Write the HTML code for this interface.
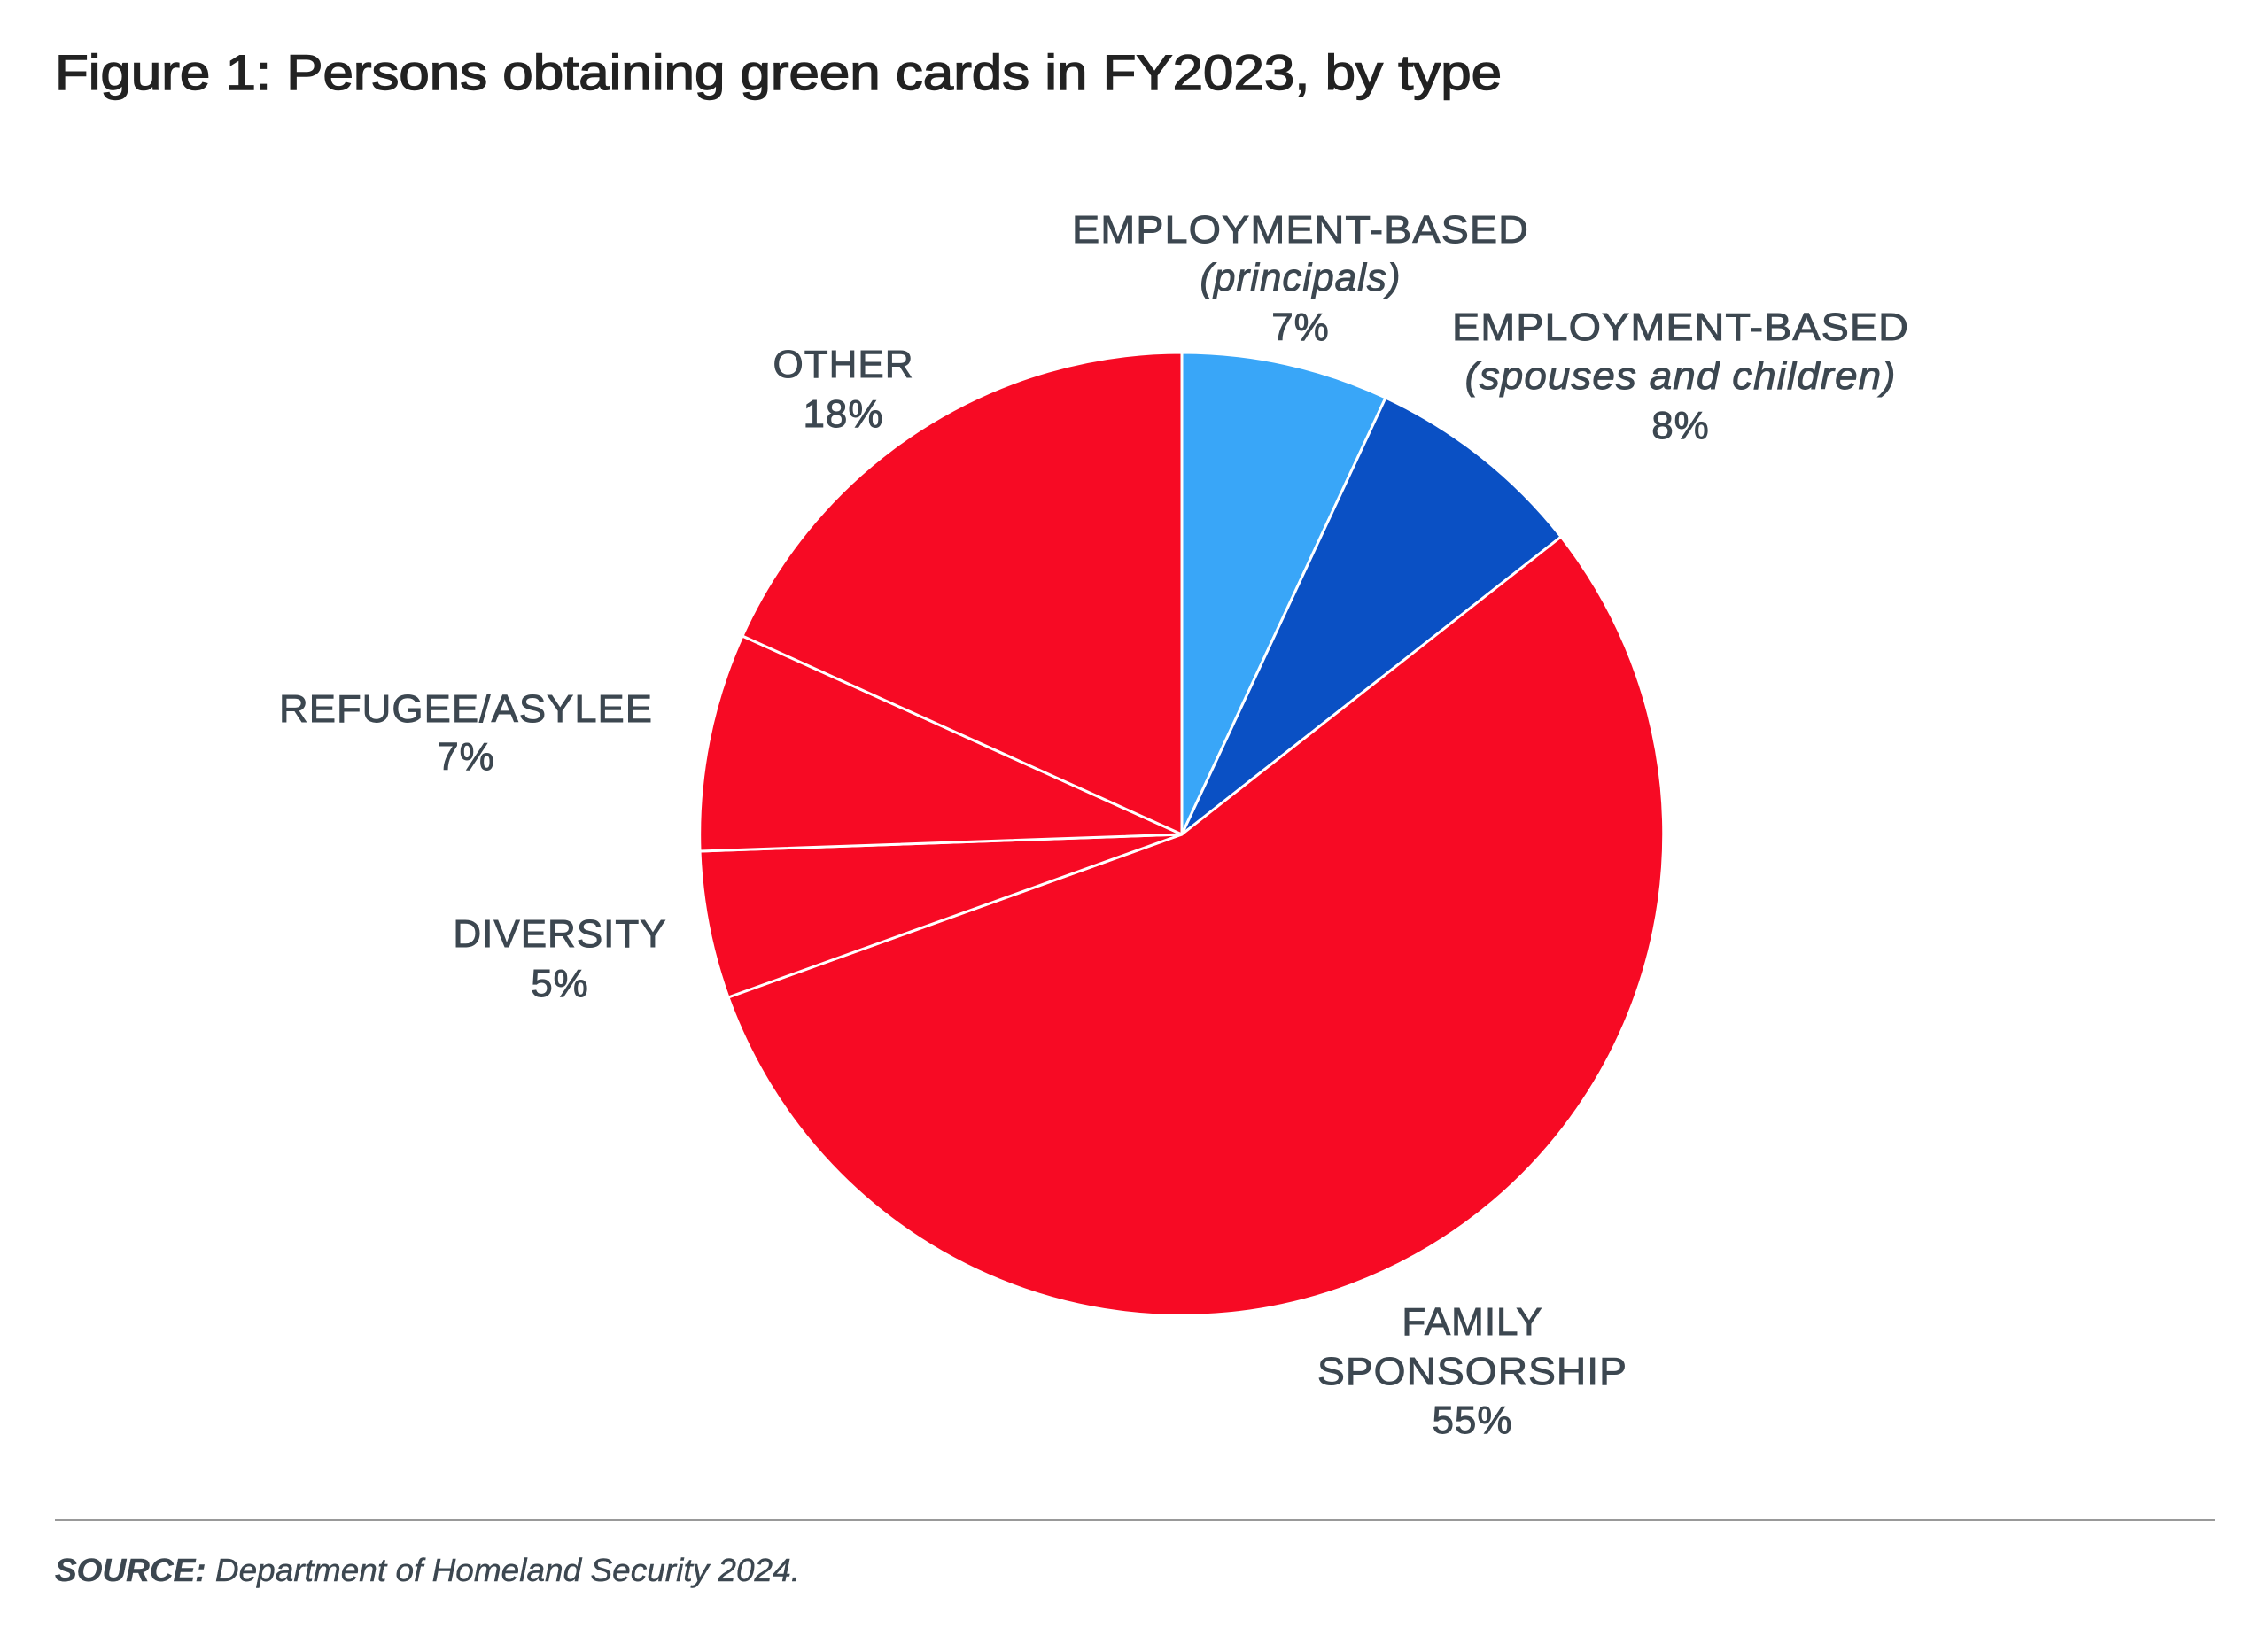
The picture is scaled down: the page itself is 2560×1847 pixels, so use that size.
<!DOCTYPE html>
<html><head><meta charset="utf-8"><style>
html,body{margin:0;padding:0;background:#fff;}
svg{display:block;}
text{font-family:"Liberation Sans",sans-serif;fill:#3c4750;}
.l{font-size:44px;letter-spacing:1px;text-anchor:middle;stroke:#3c4750;stroke-width:0.9px;}
.i{font-style:italic;}
</style></head><body>
<svg width="2560" height="1847" viewBox="0 0 2560 1847" xmlns="http://www.w3.org/2000/svg">
<rect width="2560" height="1847" fill="#fff"/>
<text x="62" y="101" font-size="56" textLength="1633" lengthAdjust="spacingAndGlyphs" style="fill:#222;stroke:#222;stroke-width:1.4px">Figure 1: Persons obtaining green cards in FY2023, by type</text>
<g stroke="#fff" stroke-width="3" stroke-linejoin="round">
<path d="M1334,942 L1334,398 A544,544 0 0 1 1564,449 Z" fill="#39a6f8"/>
<path d="M1334,942 L1564,449 A544,544 0 0 1 1762,606 Z" fill="#0a50c4"/>
<path d="M1334,942 L1762,606 A544,544 0 1 1 822,1126 Z" fill="#f70a24"/>
<path d="M1334,942 L822,1126 A544,544 0 0 1 790,961 Z" fill="#f70a24"/>
<path d="M1334,942 L790,961 A544,544 0 0 1 838,718 Z" fill="#f70a24"/>
<path d="M1334,942 L838,718 A544,544 0 0 1 1334,398 Z" fill="#f70a24"/>
</g>
<text class="l" x="1468" y="274" textLength="516" lengthAdjust="spacingAndGlyphs">EMPLOYMENT-BASED</text>
<text class="l i" x="1468" y="328">(principals)</text>
<text class="l" x="1468" y="384">7%</text>
<text class="l" x="1897" y="384" textLength="516" lengthAdjust="spacingAndGlyphs">EMPLOYMENT-BASED</text>
<text class="l i" x="1897" y="439" textLength="487" lengthAdjust="spacingAndGlyphs">(spouses and children)</text>
<text class="l" x="1897" y="495">8%</text>
<text class="l" x="952" y="426">OTHER</text>
<text class="l" x="952" y="482">18%</text>
<text class="l" x="526" y="815" textLength="422" lengthAdjust="spacingAndGlyphs">REFUGEE/ASYLEE</text>
<text class="l" x="526" y="869">7%</text>
<text class="l" x="632" y="1069">DIVERSITY</text>
<text class="l" x="632" y="1125">5%</text>
<text class="l" x="1662" y="1507">FAMILY</text>
<text class="l" x="1662" y="1563" textLength="350" lengthAdjust="spacingAndGlyphs">SPONSORSHIP</text>
<text class="l" x="1662" y="1618">55%</text>
<line x1="62" y1="1716" x2="2500" y2="1716" stroke="#999" stroke-width="2"/>
<text x="62" y="1785" font-size="36" class="i" textLength="841" lengthAdjust="spacingAndGlyphs" style="stroke:#3c4750;stroke-width:0.4px"><tspan font-weight="bold">SOURCE:</tspan> Department of Homeland Security 2024.</text>
</svg>
</body></html>
